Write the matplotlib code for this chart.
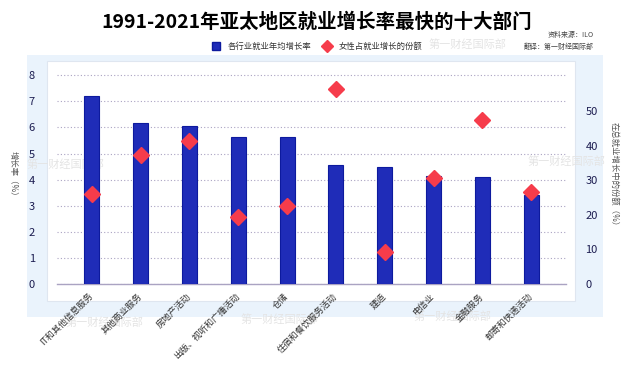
import matplotlib
matplotlib.use("Agg")
import matplotlib.pyplot as plt
from matplotlib.lines import Line2D
from matplotlib.patches import Rectangle

plt.rcParams["font.family"] = ["Noto Sans CJK SC", "DejaVu Sans"]

# data
sectors = [
    "IT和其他信息服务", "其他商业服务", "房地产活动", "出版、视听和广播活动", "仓储",
    "住宿和餐饮服务活动", "建造", "电信业", "金融服务", "邮寄和快递活动",
]
growth_rate = [7.22, 6.17, 6.07, 5.63, 5.63, 4.57, 4.48, 4.13, 4.11, 3.42]
female_share = [26.0, 37.4, 41.3, 19.3, 22.6, 56.3, 9.2, 30.5, 47.5, 26.6]
left_ticks = [0, 1, 2, 3, 4, 5, 6, 7, 8]
right_ticks = [0, 10, 20, 30, 40, 50]

W, H = 640, 365
BAR = "#1f2cb8"
BAR_EDGE = "#0d1a9e"
RED = "#f63c4b"
NAVY = "#1c1c50"
GRID = "#aaa3c2"


def fx(px):
    return px / W


def fy(py):
    return 1 - py / H


fig = plt.figure(figsize=(6.4, 3.65), dpi=100)

# background panels
fig.patches.append(Rectangle((fx(27), fy(317)), fx(603) - fx(27), fy(55) - fy(317),
                             transform=fig.transFigure, facecolor="#eaf3fc", edgecolor="none", zorder=-2))
fig.patches.append(Rectangle((fx(47), fy(301)), fx(575) - fx(47), fy(61) - fy(301),
                             transform=fig.transFigure, facecolor="white", edgecolor="#dfe6f0",
                             linewidth=0.8, zorder=-1))

ax = fig.add_axes([fx(57), fy(284), fx(566) - fx(57), fy(67.4) - fy(284)])
ax.set_facecolor("none")
x = range(len(sectors))
ax.bar(x, growth_rate, width=0.31, color=BAR, edgecolor=BAR_EDGE, linewidth=0.8, zorder=3)
ax.set_xlim(-0.71, 9.71)
ax.set_ylim(0, 8.3)
ax.set_yticks(left_ticks)
ax.yaxis.grid(True, linestyle=(0, (1, 2)), color=GRID, linewidth=0.8, zorder=0)
ax.set_axisbelow(True)
for s in ["top", "left", "right"]:
    ax.spines[s].set_visible(False)
ax.spines["bottom"].set_color(GRID)
ax.spines["bottom"].set_linewidth(1.0)
ax.tick_params(axis="y", length=0, pad=16, labelsize=8, labelcolor=NAVY)
ax.tick_params(axis="x", length=0, pad=8)
ax.set_xticks(list(x))
ax.set_xticklabels(sectors, rotation=45, ha="right", va="center", rotation_mode="anchor",
                   fontsize=6.4, color="#333333")

ax2 = ax.twinx()
ax2.plot(x, female_share, linestyle="none", marker="D", markersize=7.8, color=RED, zorder=4)
ax2.set_ylim(0, 8.3 * 7.54)
ax2.set_yticks(right_ticks)
for s in ["top", "left", "right", "bottom"]:
    ax2.spines[s].set_visible(False)
ax2.tick_params(axis="y", length=0, pad=14, labelsize=8, labelcolor=NAVY)

# axis titles
fig.text(fx(13), fy(176), "增长率（%）", rotation=-90, ha="center", va="center",
         fontsize=6, color="#555555")
fig.text(fx(614), fy(176), "在总就业增长中的份额（%）", rotation=-90, ha="center", va="center",
         fontsize=6, color="#555555")

# title, legend, source
fig.text(fx(317), fy(22), "1991-2021年亚太地区就业增长率最快的十大部门", ha="center", va="center",
         fontsize=14, fontweight="bold", color="black")
handles = [
    Line2D([], [], linestyle="none", marker="s", markersize=5.5, color=BAR, markeredgecolor=BAR_EDGE),
    Line2D([], [], linestyle="none", marker="D", markersize=6.5, color=RED),
]
fig.legend(handles, ["各行业就业年均增长率", "女性占就业增长的份额"], loc="center",
           bbox_to_anchor=(fx(315), fy(46)), ncol=2, frameon=False, fontsize=6,
           handletextpad=0.4, columnspacing=0.8, labelcolor="#333333")
fig.text(fx(594), fy(35), "资料来源：ILO", ha="right", va="center", fontsize=5, color="#444444")
fig.text(fx(594), fy(47), "翻译：第一财经国际部", ha="right", va="center", fontsize=5, color="#444444")

# watermarks, drawn under the chart
for wx, wy in [(467, 45), (65, 165), (566, 162), (104, 323), (279, 320), (452, 317)]:
    fig.text(fx(wx), fy(wy), "第一财经国际部", ha="center", va="center", fontsize=8,
             color="#e4e4e4", zorder=-0.5)

fig.savefig("out.png", dpi=100)
